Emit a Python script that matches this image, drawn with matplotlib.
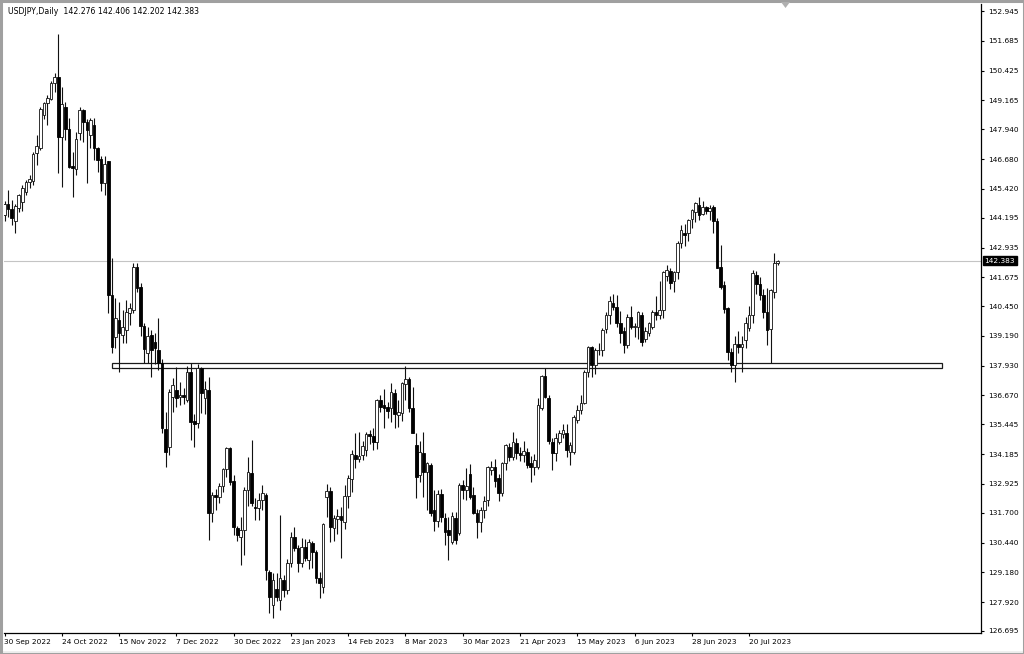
import matplotlib
matplotlib.use("Agg")
import matplotlib.pyplot as plt
from matplotlib.patches import Rectangle, Polygon
import numpy as np

title_text = "USDJPY,Daily  142.276 142.406 142.202 142.383"

opens = [
    144.30, 144.80, 144.58, 144.05, 144.60, 144.85, 145.30, 145.70, 145.75, 146.95,
    147.15, 148.56, 149.05, 149.24, 149.92, 150.17, 147.63, 148.90, 147.97, 146.40,
    146.27, 147.80, 148.77, 148.26, 147.71, 148.14, 147.16, 146.68, 145.66, 146.58,
    140.93, 139.15, 139.87, 139.24, 139.45, 140.18, 140.30, 142.13, 141.28, 139.62,
    138.49, 139.24, 138.95, 138.60, 138.04, 135.25, 134.50, 136.60, 136.91, 136.62,
    136.70, 136.48, 137.68, 135.60, 135.50, 137.83, 136.55, 136.91, 131.68, 132.45,
    132.38, 132.84, 133.55, 134.43, 133.05, 131.05, 130.69, 130.98, 132.66, 133.40,
    131.96, 131.90, 132.25, 132.45, 129.21, 127.80, 128.46, 128.00, 128.85, 128.43,
    129.56, 130.69, 130.20, 129.56, 130.27, 129.70, 130.43, 130.05, 128.92, 128.57,
    132.35, 132.62, 131.05, 131.45, 131.57, 131.30, 132.40, 133.12, 134.15, 133.96,
    134.15, 134.36, 135.05, 134.95, 134.72, 136.48, 136.25, 136.17, 136.13, 136.77,
    135.85, 135.92, 137.15, 137.36, 136.13, 134.57, 133.31, 134.22, 133.44, 133.73,
    131.80, 131.35, 132.50, 131.47, 130.97, 130.48, 131.47, 130.83, 132.88, 132.67,
    133.35, 132.45, 131.70, 131.30, 131.80, 132.25, 133.50, 133.65, 133.16, 132.55,
    133.82, 134.48, 134.08, 134.67, 134.22, 134.15, 134.29, 133.80, 133.65, 133.65,
    136.13, 137.50, 136.55, 134.72, 134.25, 134.72, 135.05, 135.07, 134.29, 134.29,
    135.65, 136.07, 136.35, 137.68, 138.73, 137.96, 138.58, 138.60, 139.48, 140.08,
    140.60, 140.43, 139.74, 139.38, 138.81, 140.01, 139.55, 139.59, 140.08, 139.05,
    139.31, 139.59, 140.22, 140.08, 140.31, 141.71, 141.96, 141.50, 141.92, 143.12,
    143.55, 143.55, 144.14, 144.46, 144.74, 144.35, 144.65, 144.50, 144.67, 144.04,
    142.13, 141.36, 140.37, 138.53, 137.96, 138.86, 138.74, 139.00, 139.52, 140.08,
    141.78, 141.40, 140.93, 140.22, 139.50, 141.05, 142.276,
]

highs = [
    144.90, 145.38, 144.96, 144.80, 145.20, 145.60, 145.80, 146.00, 146.98, 147.70,
    148.87, 149.10, 149.40, 150.00, 150.34, 151.99, 149.75, 149.11, 148.43, 146.99,
    147.84, 148.90, 148.82, 148.40, 148.43, 148.43, 147.20, 146.82, 146.82, 146.62,
    142.49, 140.80, 140.65, 140.30, 140.72, 140.60, 142.28, 142.28, 141.43, 139.74,
    139.59, 139.45, 139.30, 139.96, 138.20, 135.99, 136.95, 137.42, 137.89, 137.26,
    137.00, 137.90, 138.04, 135.90, 138.00, 137.89, 137.30, 137.45, 132.60, 132.70,
    132.95, 133.60, 134.50, 134.50, 133.30, 131.15, 131.54, 132.80, 134.08, 134.79,
    132.32, 132.54, 132.88, 132.55, 129.28, 129.14, 129.14, 131.61, 129.07, 129.75,
    130.90, 131.12, 130.34, 130.62, 130.60, 130.60, 130.52, 130.12, 129.20, 131.25,
    132.90, 132.80, 131.61, 131.85, 131.95, 132.88, 133.30, 134.35, 135.07, 135.14,
    134.75, 135.14, 135.20, 135.30, 136.52, 136.70, 136.94, 136.40, 137.19, 136.95,
    136.48, 137.22, 137.92, 137.45, 137.05, 135.07, 134.75, 135.14, 133.86, 133.80,
    132.65, 132.65, 132.70, 131.68, 131.54, 131.75, 131.75, 132.95, 133.10, 133.59,
    133.75, 132.80, 131.85, 131.95, 132.40, 133.70, 133.90, 134.00, 133.35, 133.85,
    134.60, 134.65, 135.14, 134.85, 134.50, 134.75, 134.45, 134.10, 134.20, 136.55,
    137.55, 137.83, 136.70, 134.86, 135.10, 135.20, 135.45, 135.45, 134.72, 135.85,
    136.25, 136.70, 137.75, 138.75, 138.75, 138.70, 138.90, 139.52, 140.20, 140.90,
    140.95, 140.93, 140.25, 139.59, 140.10, 140.45, 139.75, 140.25, 140.20, 139.55,
    139.80, 140.30, 140.90, 141.50, 141.95, 142.20, 142.05, 141.95, 143.20, 143.90,
    143.95, 144.15, 144.55, 144.85, 145.07, 144.90, 144.70, 144.75, 144.74, 144.20,
    143.05, 141.50, 140.43, 138.70, 139.17, 139.40, 139.17, 140.00, 140.47, 142.00,
    141.95, 141.70, 141.20, 141.22, 141.20, 142.70, 142.406,
]

lows = [
    144.05, 144.24, 143.90, 143.56, 144.45, 144.50, 145.15, 145.45, 145.60, 146.45,
    147.05, 148.40, 148.14, 149.20, 149.53, 146.10, 145.51, 147.50, 146.31, 145.08,
    146.02, 147.50, 147.42, 145.68, 147.16, 146.65, 146.12, 145.31, 145.17, 140.17,
    138.47, 138.70, 137.68, 138.90, 138.91, 139.66, 140.17, 141.06, 139.17, 138.05,
    138.05, 137.47, 138.00, 137.75, 135.10, 133.66, 134.15, 135.99, 136.20, 136.27,
    136.30, 136.40, 134.79, 134.50, 135.30, 135.91, 135.90, 130.55, 131.30, 131.80,
    132.10, 132.60, 133.20, 132.88, 130.76, 130.50, 129.49, 129.90, 132.00, 132.00,
    131.40, 131.40, 131.80, 128.85, 127.45, 127.23, 127.95, 127.58, 128.15, 128.25,
    129.42, 130.10, 129.21, 129.42, 129.65, 129.30, 129.35, 128.72, 128.08, 128.30,
    131.54, 130.48, 130.50, 130.80, 129.80, 131.00, 131.90, 132.60, 133.60, 133.85,
    133.95, 134.10, 134.60, 134.35, 134.40, 135.95, 135.28, 135.70, 135.55, 135.28,
    135.35, 135.60, 136.48, 135.95, 135.07, 132.32, 133.00, 132.39, 131.82, 131.55,
    130.95, 131.10, 131.30, 130.34, 129.70, 130.40, 130.40, 130.75, 132.30, 132.25,
    132.30, 131.65, 130.63, 130.90, 131.50, 132.00, 133.30, 132.80, 132.20, 132.40,
    133.50, 133.90, 133.94, 134.00, 133.90, 133.85, 133.60, 133.00, 133.30, 133.55,
    136.05, 136.55, 134.60, 133.50, 133.90, 134.60, 134.85, 134.05, 133.73, 134.20,
    135.50, 135.90, 136.30, 137.45, 137.47, 137.60, 138.40, 138.35, 139.30, 139.70,
    140.30, 139.55, 138.90, 138.46, 138.70, 139.50, 139.15, 139.05, 138.75, 138.95,
    139.20, 139.50, 139.85, 139.90, 139.95, 141.50, 141.20, 141.05, 141.60, 142.90,
    143.00, 143.20, 143.75, 144.00, 144.11, 144.30, 144.35, 144.10, 143.55, 142.05,
    141.20, 140.15, 138.17, 137.68, 137.26, 138.45, 137.68, 138.70, 139.40, 139.75,
    140.95, 140.70, 139.96, 138.80, 138.05, 140.80, 142.202,
]

closes = [
    144.80, 144.58, 144.20, 144.70, 145.15, 145.45, 145.70, 145.85, 146.90, 147.22,
    148.80, 149.05, 149.26, 149.90, 150.17, 147.63, 149.02, 147.97, 146.36, 146.30,
    147.54, 148.77, 148.26, 147.92, 148.35, 147.16, 146.65, 145.66, 146.48, 140.93,
    138.74, 139.96, 139.32, 139.59, 140.22, 140.38, 142.13, 141.22, 139.62, 138.63,
    139.17, 138.60, 138.67, 138.04, 135.28, 134.29, 136.83, 137.12, 136.56, 136.70,
    136.60, 137.68, 135.55, 135.45, 137.83, 136.77, 136.94, 131.68, 132.45, 132.38,
    132.84, 133.55, 134.45, 133.02, 131.12, 130.76, 130.98, 132.66, 133.45, 132.13,
    131.89, 132.25, 132.53, 129.28, 128.15, 128.85, 128.15, 128.92, 128.43, 129.56,
    130.69, 130.20, 129.56, 130.27, 129.77, 130.48, 130.05, 128.92, 128.72, 131.23,
    132.62, 131.12, 131.47, 131.57, 131.40, 132.42, 133.18, 134.18, 133.96, 134.10,
    134.55, 135.05, 134.95, 134.72, 136.48, 136.20, 136.15, 136.00, 136.80, 135.90,
    135.95, 137.19, 137.36, 136.13, 135.10, 133.23, 134.29, 133.44, 133.80, 131.68,
    131.35, 132.50, 131.54, 130.90, 130.76, 131.55, 130.55, 132.88, 132.67, 132.85,
    132.39, 131.70, 131.30, 131.80, 132.20, 133.65, 133.65, 133.06, 132.55, 133.80,
    134.57, 134.08, 134.72, 134.22, 134.15, 134.30, 133.73, 133.65, 133.94, 136.27,
    137.50, 136.60, 134.76, 134.25, 134.86, 135.10, 135.21, 134.36, 134.57, 135.77,
    136.07, 136.37, 137.68, 138.71, 137.96, 138.58, 138.60, 139.45, 140.08, 140.65,
    140.43, 139.74, 139.31, 138.81, 140.01, 139.59, 139.62, 140.22, 138.95, 139.40,
    139.74, 140.22, 140.08, 140.30, 141.92, 141.98, 141.43, 141.88, 143.12, 143.68,
    143.47, 144.11, 144.53, 144.82, 144.32, 144.65, 144.49, 144.59, 144.04, 142.06,
    141.28, 140.34, 138.53, 137.96, 138.86, 138.71, 138.86, 139.75, 140.08, 141.85,
    141.40, 140.93, 140.22, 139.45, 141.15, 142.30, 142.383,
]

xtick_labels = ["30 Sep 2022", "24 Oct 2022", "15 Nov 2022", "7 Dec 2022",
                "30 Dec 2022", "23 Jan 2023", "14 Feb 2023", "8 Mar 2023",
                "30 Mar 2023", "21 Apr 2023", "15 May 2023", "6 Jun 2023",
                "28 Jun 2023", "20 Jul 2023"]
xtick_bars = [0, 16, 32, 48, 64, 80, 96, 112, 128, 144, 160, 176, 192, 208]

ytick_labels = ["152.945", "151.685", "150.425", "149.165", "147.940", "146.680",
                "145.420", "144.195", "142.935", "141.675", "140.450", "139.190",
                "137.930", "136.670", "135.445", "134.185", "132.925", "131.700",
                "130.440", "129.180", "127.920", "126.695"]
ytick_values = [float(v) for v in ytick_labels]

current_price = 142.383
zone_low, zone_high = 137.83, 138.04
zone_start_bar, zone_end_bar = 30.0, 262.0

# ---------------------------------------------------------------
n = min(len(opens), len(highs), len(lows), len(closes))
o = np.array(opens[:n]); h = np.array(highs[:n])
l = np.array(lows[:n]); c = np.array(closes[:n])
x = np.arange(n)

W, H = 1024, 654
fig = plt.figure(figsize=(W / 100, H / 100), dpi=100)
fig.patch.set_facecolor("white")

ax_left, ax_right, ax_top, ax_bottom = 4, 981, 4, 633
ax = fig.add_axes([ax_left / W, 1 - ax_bottom / H,
                   (ax_right - ax_left) / W, (ax_bottom - ax_top) / H])
ax.set_facecolor("white")

px_per_bar = 3.58
x0_px = 4.5
ax.set_xlim((ax_left - x0_px) / px_per_bar, (ax_right - x0_px) / px_per_bar)
ax.set_ylim(126.61, 153.25)

# bid line and zone (background)
ax.axhline(current_price, color="#c4c4c4", lw=0.8, zorder=1)
ax.add_patch(Rectangle((zone_start_bar, zone_low), zone_end_bar - zone_start_bar,
                       zone_high - zone_low, facecolor="white",
                       edgecolor="#1a1a1a", lw=0.9, zorder=1.5))

# candles
bw = 0.74
ax.vlines(x, l, h, color="#111111", lw=0.8, zorder=2)
bull = c >= o
bear = ~bull
body_lo = np.minimum(o, c)
body_h = np.maximum(np.abs(c - o), 0.03)
ax.bar(x[bull], body_h[bull], bottom=body_lo[bull], width=bw,
       facecolor="white", edgecolor="#111111", linewidth=0.6, zorder=3)
ax.bar(x[bear], body_h[bear], bottom=body_lo[bear], width=bw,
       facecolor="black", edgecolor="black", linewidth=0.6, zorder=3)

# axes styling
for s in ("left", "top"):
    ax.spines[s].set_visible(False)
for s in ("right", "bottom"):
    ax.spines[s].set_color("black")
    ax.spines[s].set_linewidth(0.9)

fs = 5.3
ax.set_xticks(xtick_bars)
ax.set_xticklabels(xtick_labels, fontsize=fs)
for lab in ax.get_xticklabels():
    lab.set_horizontalalignment("left")
ax.tick_params(axis="x", direction="out", length=2.4, width=0.8, pad=2.0)

ax.yaxis.tick_right()
ax.set_yticks(ytick_values)
ax.set_yticklabels(ytick_labels, fontsize=fs)
ax.tick_params(axis="y", direction="out", length=2.4, width=0.8, pad=2.5)

# current price label on the axis
ax.text(1.0035, current_price, f"{current_price:.3f}", transform=ax.get_yaxis_transform(),
        ha="left", va="center", fontsize=fs, color="white", zorder=10,
        bbox=dict(boxstyle="square,pad=0.25", facecolor="black", edgecolor="black"),
        clip_on=False)

# title
fig.text(8 / W, 1 - 11 / H, title_text, fontsize=5.6, ha="left", va="center")

# window border and chart-shift marker
fig.patches.append(Rectangle((0, 0), 1, 3 / H, transform=fig.transFigure,
                             facecolor="#efefef", edgecolor="none", zorder=0))
fig.patches.append(Rectangle((0.5 / W, 0.5 / H), 1 - 1 / W, 1 - 1 / H,
                             transform=fig.transFigure, fill=False,
                             edgecolor="#a0a0a0", lw=2.2, zorder=5))
fig.patches.append(Polygon([(781 / W, 1 - 2 / H), (790 / W, 1 - 2 / H),
                            (785.5 / W, 1 - 8 / H)], closed=True,
                           transform=fig.transFigure, facecolor="#b0b0b0",
                           edgecolor="none", zorder=6))

fig.savefig("out.png", dpi=100, facecolor="white")
